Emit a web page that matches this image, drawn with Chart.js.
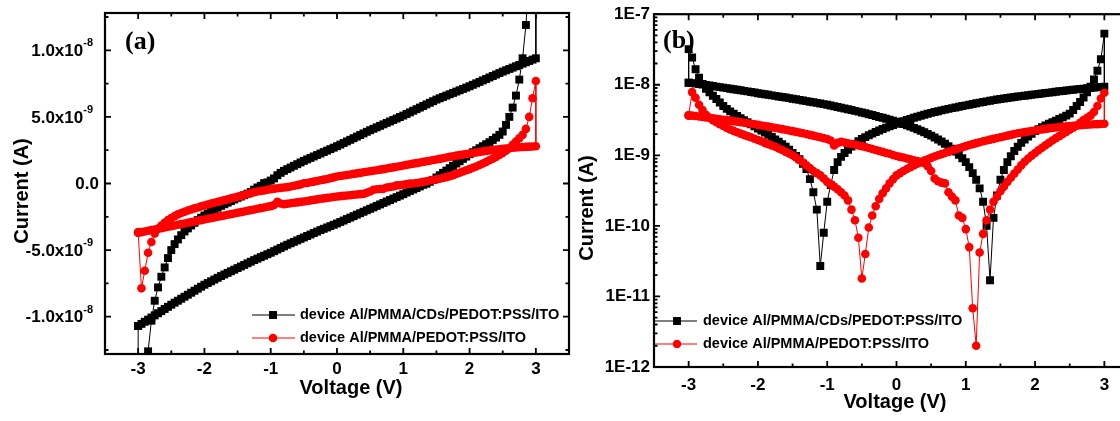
<!DOCTYPE html>
<html>
<head>
<meta charset="utf-8">
<script src="https://cdn.jsdelivr.net/npm/chart.js@4.4.1/dist/chart.umd.min.js"></script>
<style>
  html, body { margin: 0; padding: 0; background: #fff; overflow: hidden; }
  body { width: 1120px; height: 421px; position: relative; }
  #chartA { position: absolute; left: 0; top: 0; }
  #chartB { position: absolute; left: 575px; top: 0; }
</style>
</head>
<body>
<canvas id="chartA" width="575" height="421"></canvas>
<canvas id="chartB" width="585" height="421"></canvas>
<script>
// bias steps of one sweep, -3 V -> +3 V
const voltsSweep = [
  -3, -2.95, -2.9, -2.85, -2.8, -2.75, -2.7, -2.65, -2.6, -2.55,
  -2.5, -2.45, -2.4, -2.35, -2.3, -2.25, -2.2, -2.15, -2.1, -2.05,
  -2, -1.95, -1.9, -1.85, -1.8, -1.75, -1.7, -1.65, -1.6, -1.55,
  -1.5, -1.45, -1.4, -1.35, -1.3, -1.25, -1.2, -1.15, -1.1, -1.05,
  -1, -0.95, -0.9, -0.85, -0.8, -0.75, -0.7, -0.65, -0.6, -0.55,
  -0.5, -0.45, -0.4, -0.35, -0.3, -0.25, -0.2, -0.15, -0.1, -0.05,
  0, 0.05, 0.1, 0.15, 0.2, 0.25, 0.3, 0.35, 0.4, 0.45,
  0.5, 0.55, 0.6, 0.65, 0.7, 0.75, 0.8, 0.85, 0.9, 0.95,
  1, 1.05, 1.1, 1.15, 1.2, 1.25, 1.3, 1.35, 1.4, 1.45,
  1.5, 1.55, 1.6, 1.65, 1.7, 1.75, 1.8, 1.85, 1.9, 1.95,
  2, 2.05, 2.1, 2.15, 2.2, 2.25, 2.3, 2.35, 2.4, 2.45,
  2.5, 2.55, 2.6, 2.65, 2.7, 2.75, 2.8, 2.85, 2.9, 2.95,
  3
];
// return sweep runs the same steps backwards, +3 V -> -3 V
const voltsDown = voltsSweep.slice().reverse();

// currents in nA, CDs device
const cdsFwd = [
  -10.70, -10.54, -10.38, -10.22, -10.06, -9.90, -9.74, -9.58, -9.42, -9.26,
  -9.10, -8.95, -8.80, -8.65, -8.50, -8.35, -8.20, -8.05, -7.90, -7.75,
  -7.60, -7.47, -7.34, -7.21, -7.08, -6.95, -6.83, -6.71, -6.59, -6.47,
  -6.35, -6.23, -6.11, -5.99, -5.87, -5.75, -5.64, -5.53, -5.42, -5.31,
  -5.20, -5.08, -4.96, -4.84, -4.72, -4.60, -4.49, -4.38, -4.27, -4.16,
  -4.05, -3.94, -3.83, -3.72, -3.61, -3.50, -3.40, -3.30, -3.20, -3.10,
  -3.00, -2.89, -2.78, -2.67, -2.56, -2.45, -2.34, -2.23, -2.12, -2.01,
  -1.90, -1.79, -1.68, -1.57, -1.46, -1.35, -1.24, -1.13, -1.02, -0.91,
  -0.80, -0.68, -0.56, -0.45, -0.34, -0.22, -0.10, -0.017, 0.13, 0.27,
  0.45, 0.62, 0.80, 0.97, 1.15, 1.32, 1.50, 1.67, 1.85, 2.02,
  2.20, 2.35, 2.50, 2.65, 2.80, 2.95, 3.10, 3.27, 3.45, 3.65,
  3.90, 4.40, 5.00, 5.70, 6.60, 7.80, 9.40, 11.9, 15.8, 23.0,
  53.0
];
const cdsRev = [
  9.40, 9.30, 9.20, 9.10, 9.00, 8.90, 8.80, 8.70, 8.60, 8.50,
  8.40, 8.29, 8.18, 8.07, 7.96, 7.85, 7.74, 7.63, 7.52, 7.41,
  7.30, 7.20, 7.10, 7.00, 6.90, 6.80, 6.70, 6.60, 6.50, 6.40,
  6.30, 6.18, 6.06, 5.94, 5.82, 5.70, 5.58, 5.46, 5.34, 5.22,
  5.10, 4.99, 4.88, 4.77, 4.66, 4.55, 4.44, 4.33, 4.22, 4.11,
  4.00, 3.88, 3.76, 3.64, 3.52, 3.40, 3.28, 3.16, 3.04, 2.92,
  2.80, 2.69, 2.58, 2.47, 2.36, 2.25, 2.14, 2.03, 1.92, 1.81,
  1.70, 1.58, 1.45, 1.33, 1.20, 1.08, 0.95, 0.80, 0.62, 0.38,
  0.22, 0.08, 0.027, -0.17, -0.30, -0.46, -0.64, -0.76, -0.88, -0.98,
  -1.08, -1.20, -1.32, -1.44, -1.56, -1.68, -1.82, -1.96, -2.10, -2.25,
  -2.40, -2.57, -2.75, -2.95, -3.15, -3.37, -3.60, -3.88, -4.20, -4.55,
  -5.00, -5.60, -6.30, -7.00, -7.80, -8.80, -10.3, -12.6, -16.6, -24.4,
  -32.0
];

// currents in nA, PMMA-only device
const pmmaFwd = [
  -3.70, -3.65, -3.60, -3.55, -3.50, -3.45, -3.40, -3.35, -3.30, -3.25,
  -3.20, -3.15, -3.10, -3.05, -3.00, -2.95, -2.90, -2.85, -2.80, -2.75,
  -2.70, -2.65, -2.60, -2.55, -2.50, -2.45, -2.40, -2.35, -2.30, -2.25,
  -2.20, -2.15, -2.10, -2.05, -2.00, -1.95, -1.90, -1.85, -1.80, -1.75,
  -1.70, -1.62, -1.38, -1.50, -1.55, -1.52, -1.48, -1.45, -1.42, -1.38,
  -1.35, -1.31, -1.27, -1.23, -1.19, -1.15, -1.12, -1.08, -1.05, -1.01,
  -0.98, -0.95, -0.93, -0.90, -0.88, -0.85, -0.83, -0.80, -0.78, -0.70,
  -0.60, -0.47, -0.43, -0.41, -0.40, -0.30, -0.26, -0.23, -0.14, -0.13,
  -0.09, -0.05, -0.0068, 0.002, 0.042, 0.077, 0.12, 0.17, 0.22, 0.26,
  0.31, 0.36, 0.42, 0.48, 0.55, 0.63, 0.72, 0.81, 0.90, 0.99,
  1.08, 1.18, 1.28, 1.39, 1.50, 1.62, 1.75, 1.87, 2.00, 2.15,
  2.30, 2.47, 2.65, 2.90, 3.15, 3.40, 3.65, 4.10, 5.00, 6.40,
  7.70
];
const pmmaRev = [
  2.80, 2.78, 2.77, 2.75, 2.74, 2.72, 2.70, 2.68, 2.65, 2.63,
  2.60, 2.57, 2.54, 2.51, 2.48, 2.45, 2.41, 2.37, 2.33, 2.29,
  2.25, 2.21, 2.17, 2.13, 2.09, 2.05, 2.00, 1.95, 1.90, 1.85,
  1.80, 1.76, 1.71, 1.67, 1.62, 1.58, 1.53, 1.49, 1.44, 1.40,
  1.35, 1.30, 1.26, 1.21, 1.17, 1.12, 1.08, 1.04, 1.00, 0.96,
  0.92, 0.88, 0.84, 0.80, 0.76, 0.72, 0.68, 0.64, 0.60, 0.56,
  0.52, 0.46, 0.40, 0.34, 0.29, 0.24, 0.19, 0.14, 0.095, 0.04,
  0.018, -0.068, -0.12, -0.17, -0.23, -0.27, -0.30, -0.33, -0.36, -0.39,
  -0.42, -0.47, -0.52, -0.56, -0.60, -0.66, -0.72, -0.79, -0.86, -0.93,
  -1.00, -1.06, -1.12, -1.19, -1.25, -1.32, -1.38, -1.44, -1.50, -1.58,
  -1.65, -1.72, -1.80, -1.87, -1.95, -2.03, -2.12, -2.22, -2.32, -2.45,
  -2.60, -2.75, -2.95, -3.15, -3.40, -3.76, -4.39, -5.20, -6.55, -7.87,
  -3.65
];

const seriesNames = ['device Al/PMMA/CDs/PEDOT:PSS/ITO', 'device Al/PMMA/PEDOT:PSS/ITO'];

// axes
const voltTicks = [-3, -2, -1, 0, 1, 2, 3];
const voltMinor = [-2.5, -1.5, -0.5, 0.5, 1.5, 2.5];
const currTicksA = [-1e-8, -5e-9, 0, 5e-9, 1e-8];
const currLabelsA = [['-1.0x10', '-8'], ['-5.0x10', '-9'], ['0.0', ''], ['5.0x10', '-9'], ['1.0x10', '-8']];
const currMinorA = [-1.25e-8, -7.5e-9, -2.5e-9, 2.5e-9, 7.5e-9, 1.25e-8];
const logTicks = [1e-12, 1e-11, 1e-10, 1e-9, 1e-8, 1e-7];
const logLabels = ['1E-12', '1E-11', '1E-10', '1E-9', '1E-8', '1E-7'];
const logMinor = [];
[1e-12, 1e-11, 1e-10, 1e-9, 1e-8].forEach(d => {
  for (let m = 2; m <= 9; m++) logMinor.push(m * d);
});

const SANS = '"Liberation Sans", Arial, sans-serif';
const SERIF = '"Liberation Serif", "Times New Roman", serif';
Chart.defaults.font.family = SANS;
Chart.defaults.color = '#000';

function loop(fwd, rev, mapY) {
  const pts = voltsSweep.map((v, i) => ({ x: v, y: mapY(fwd[i] * 1e-9) }));
  voltsDown.forEach((v, i) => pts.push({ x: v, y: mapY(rev[i] * 1e-9) }));
  pts.push(pts[0]); // back to the starting bias
  return pts;
}

function makeSets(mapY) {
  return [
    {
      label: seriesNames[0],
      data: loop(cdsFwd, cdsRev, mapY),
      showLine: true,
      borderColor: '#000',
      borderWidth: 1,
      pointStyle: 'rect',
      pointRadius: 5.6,
      pointBackgroundColor: '#000',
      pointBorderWidth: 0,
      order: 2
    },
    {
      label: seriesNames[1],
      data: loop(pmmaFwd, pmmaRev, mapY),
      showLine: true,
      borderColor: '#ff0000',
      borderWidth: 1,
      pointStyle: 'circle',
      pointRadius: 4.3,
      pointBackgroundColor: '#ff0000',
      pointBorderWidth: 0,
      order: 1
    }
  ];
}

// box, inward ticks, panel letter, titles and legend in the Origin style
const framePlugin = {
  id: 'frame',
  beforeDatasetsDraw(chart, args, opts) {
    const { ctx, chartArea: a } = chart;
    ctx.save();
    ctx.fillStyle = '#000';
    ctx.font = 'bold 26px ' + SERIF;
    ctx.textBaseline = 'middle';
    ctx.fillText(opts.letter, a.left + opts.letterAt[0], a.top + opts.letterAt[1]);
    ctx.restore();
  },
  afterDatasetsDraw(chart, args, opts) {
    const { ctx, chartArea: a, scales } = chart;
    ctx.save();
    ctx.strokeStyle = '#000';
    ctx.fillStyle = '#000';
    ctx.lineWidth = 1.8;

    const xTicks = (vals, len) => vals.forEach(v => {
      const px = scales.x.getPixelForValue(v);
      ctx.beginPath();
      ctx.moveTo(px, a.bottom); ctx.lineTo(px, a.bottom - len);
      ctx.moveTo(px, a.top); ctx.lineTo(px, a.top + len);
      ctx.stroke();
    });
    const yTicks = (vals, len) => vals.forEach(v => {
      const py = scales.y.getPixelForValue(v);
      ctx.beginPath();
      ctx.moveTo(a.left, py); ctx.lineTo(a.left + len, py);
      ctx.moveTo(a.right, py); ctx.lineTo(a.right - len, py);
      ctx.stroke();
    });
    xTicks(voltTicks, 6);
    xTicks(voltMinor, 3.5);
    yTicks(opts.yMajor, 6);
    yTicks(opts.yMinor, 3.5);

    ctx.lineWidth = 2.2;
    ctx.strokeRect(a.left, a.top, a.right - a.left, a.bottom - a.top);

    // y labels with superscript exponents
    if (opts.supLabels) {
      opts.supLabels.forEach((lab, i) => {
        const py = scales.y.getPixelForValue(opts.yMajor[i]);
        ctx.textBaseline = 'middle';
        ctx.textAlign = 'right';
        if (lab[1]) {
          ctx.font = 'bold 11px ' + SANS;
          const w = ctx.measureText(lab[1]).width;
          ctx.fillText(lab[1], opts.supRight, py - 7);
          ctx.font = 'bold 17px ' + SANS;
          ctx.fillText(lab[0], opts.supRight - w, py + 1);
        } else {
          ctx.font = 'bold 17px ' + SANS;
          ctx.fillText(lab[0], opts.plainRight, py + 1);
        }
      });
    }

    // axis titles
    ctx.font = 'bold 20px ' + SANS;
    ctx.textAlign = 'center';
    ctx.textBaseline = 'middle';
    ctx.fillText('Voltage (V)', opts.xTitle[0], opts.xTitle[1]);
    ctx.save();
    ctx.translate(opts.yTitle[0], opts.yTitle[1]);
    ctx.rotate(-Math.PI / 2);
    ctx.fillText('Current (A)', 0, 0);
    ctx.restore();

    // legend
    const lg = opts.legend;
    chart.data.datasets.forEach((ds, i) => {
      const y = lg.rows[i];
      ctx.strokeStyle = ds.borderColor;
      ctx.fillStyle = ds.pointBackgroundColor;
      ctx.lineWidth = 1;
      ctx.beginPath();
      ctx.moveTo(lg.line[0], y); ctx.lineTo(lg.line[1], y);
      ctx.stroke();
      if (ds.pointStyle === 'rect') {
        const s = ds.pointRadius * Math.SQRT1_2;
        ctx.fillRect(lg.mark - s, y - s, 2 * s, 2 * s);
      } else {
        ctx.beginPath();
        ctx.arc(lg.mark, y, ds.pointRadius, 0, Math.PI * 2);
        ctx.fill();
      }
      ctx.fillStyle = '#000';
      ctx.font = 'bold 14.5px ' + SANS;
      ctx.textAlign = 'left';
      ctx.fillText(ds.label, lg.text, y);
    });
    ctx.restore();
  }
};

function xScale(height, pad) {
  return {
    type: 'linear', min: -3.5, max: 3.5,
    afterBuildTicks: s => { s.ticks = voltTicks.map(v => ({ value: v })); },
    afterFit: s => { s.height = height; },
    grid: { display: false, drawTicks: false },
    border: { display: false },
    ticks: { color: '#000', font: { size: 17, weight: 'bold' }, padding: pad, maxRotation: 0, autoSkip: false }
  };
}

new Chart(document.getElementById('chartA'), {
  type: 'scatter',
  data: { datasets: makeSets(v => v) },
  plugins: [framePlugin],
  options: {
    responsive: false,
    animation: false,
    events: [],
    layout: { padding: { left: 0, right: 6, top: 13, bottom: 0 } },
    scales: {
      x: xScale(67, 5),
      y: {
        type: 'linear', min: -1.28e-8, max: 1.28e-8,
        afterBuildTicks: s => { s.ticks = currTicksA.map(v => ({ value: v })); },
        afterFit: s => { s.width = 105; },
        grid: { display: false, drawTicks: false },
        border: { display: false },
        ticks: { display: false }
      }
    },
    plugins: {
      legend: { display: false },
      tooltip: { enabled: false },
      frame: {
        letter: '(a)', letterAt: [20, 29],
        yMajor: currTicksA, yMinor: currMinorA,
        supLabels: currLabelsA, supRight: 93, plainRight: 99,
        xTitle: [351, 388], yTitle: [22, 191],
        legend: { line: [252, 295], mark: 273, text: 300, rows: [315, 338] }
      }
    }
  }
});

new Chart(document.getElementById('chartB'), {
  type: 'scatter',
  data: { datasets: makeSets(v => Math.abs(v)) },
  plugins: [framePlugin],
  options: {
    responsive: false,
    animation: false,
    events: [],
    layout: { padding: { left: 0, right: 21, top: 14, bottom: 0 } },
    scales: {
      x: xScale(54, 8),
      y: {
        type: 'logarithmic', min: 1e-12, max: 1e-7,
        afterBuildTicks: s => { s.ticks = logTicks.map(v => ({ value: v })); },
        afterFit: s => { s.width = 79; },
        grid: { display: false, drawTicks: false },
        border: { display: false },
        ticks: {
          color: '#000', font: { size: 17, weight: 'bold' }, padding: 4, autoSkip: false,
          callback: (v, i) => logLabels[i]
        }
      }
    },
    plugins: {
      legend: { display: false },
      tooltip: { enabled: false },
      frame: {
        letter: '(b)', letterAt: [9, 27],
        yMajor: logTicks, yMinor: logMinor,
        xTitle: [320, 402], yTitle: [12, 208],
        legend: { line: [80, 122], mark: 102, text: 128, rows: [321, 344] }
      }
    }
  }
});
</script>
</body>
</html>
